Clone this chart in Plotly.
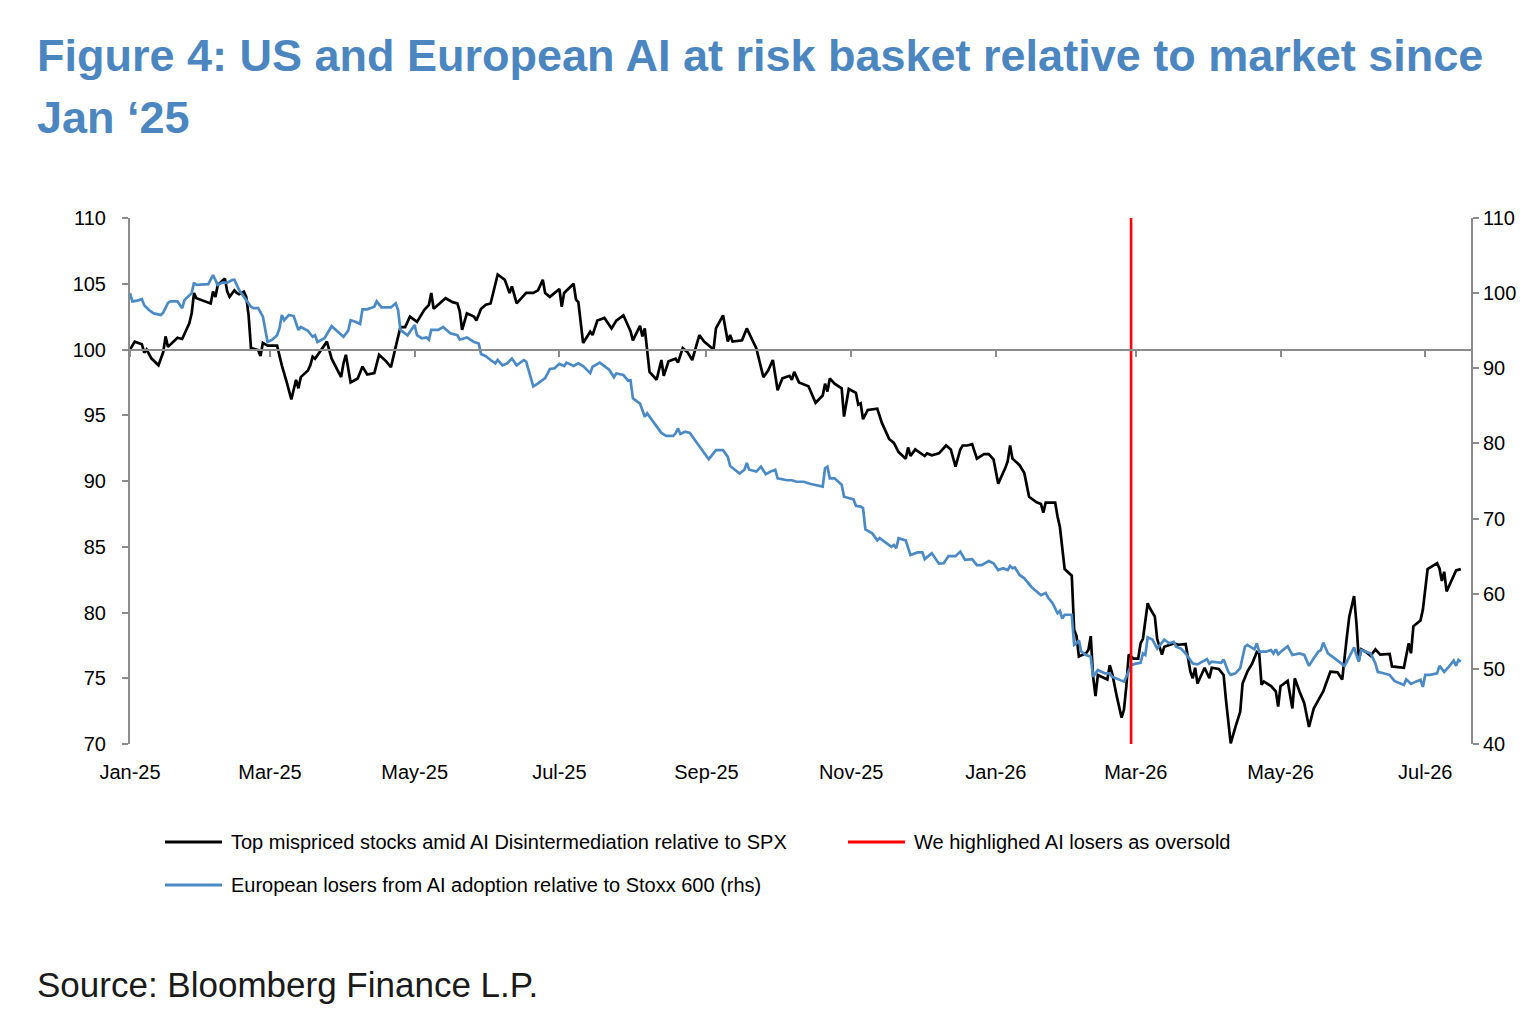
import pandas as pd
import plotly.graph_objects as go

# ---------------- data (days since 2025-01-01, index value) ----------------
BASE_DATE = "2025-01-01"

us_day = [0,2,5,6,7,9,12,14,15,16,20,22,25,26,27,28,34,35,36,37,40,41,42,44,45,46,48,49,50,51,54,55,56,58,62,64,66,68,70,71,72,75,76,77,78,80,83,85,89,90,91,93,96,98,100,103,105,108,110,112,114,116,118,121,124,126,127,128,131,133,136,138,139,140,142,145,146,148,150,152,155,158,159,160,161,163,165,167,170,172,174,175,177,179,181,182,183,187,188,189,191,194,195,197,200,203,205,208,211,212,215,216,217,219,222,224,225,227,230,231,233,235,237,240,242,246,247,250,252,253,254,258,260,264,267,269,271,273,275,278,279,280,282,286,289,292,293,294,295,297,300,301,303,306,307,308,309,311,313,315,317,320,322,324,327,328,329,331,335,336,338,341,344,346,348,350,351,353,355,357,360,362,364,366,369,370,371,372,375,377,379,382,384,385,386,390,391,392,394,397,398,399,400,403,404,405,406,407,408,412,413,414,416,418,419,420,421,423,425,426,427,429,430,432,433,435,436,438,440,442,445,447,448,449,450,452,453,455,456,459,461,462,464,466,468,469,471,473,475,476,477,478,481,483,484,485,488,490,491,493,495,497,499,501,503,504,506,509,511,513,514,516,517,518,519,521,523,525,527,531,532,537,539,540,541,544,545,547,551,552,553,554,555,559,561]
us_val = [100.0,100.6,100.4,99.76,100.0,99.33,98.8,99.8,101.0,100.2,100.9,100.8,102.0,102.75,104.3,103.9,103.5,104.4,104.0,104.9,105.4,104.4,104.0,104.5,104.3,104.2,104.4,104.0,102.6,100.1,99.96,99.5,100.5,100.3,100.3,98.8,97.55,96.2,97.7,97.05,97.9,98.4,98.8,99.45,99.3,99.8,100.6,99.3,97.9,98.95,99.6,97.5,97.8,98.7,98.1,98.2,99.6,99.1,98.65,100.2,101.7,101.7,102.5,102.1,103.0,103.4,104.3,103.1,103.6,103.9,103.6,103.5,102.9,101.5,102.75,102.5,102.2,103.1,103.4,103.5,105.7,105.3,104.8,104.3,104.8,103.5,103.9,104.3,104.3,104.5,105.3,104.3,104.0,104.3,104.6,103.25,104.3,105.0,103.8,103.6,100.5,101.35,101.1,102.2,102.4,101.6,102.2,102.6,101.4,100.7,101.8,101.0,101.6,98.3,97.7,99.2,98.0,99.1,99.3,99.0,100.1,99.8,99.2,101.1,100.6,100.0,101.6,102.6,100.6,101.1,100.6,100.7,101.6,100.1,97.9,98.4,99.2,96.9,97.8,98.0,97.7,98.3,97.5,97.2,95.95,96.5,97.4,96.8,97.8,97.4,97.05,94.9,97.0,96.7,95.8,95.9,94.7,95.4,95.45,95.5,94.4,93.2,92.9,92.2,91.7,92.55,91.9,92.4,91.9,92.1,91.95,92.1,92.7,92.4,91.1,92.4,92.7,92.7,92.8,91.7,92.05,92.05,91.65,89.8,91.0,91.5,92.7,91.7,91.2,90.6,88.8,88.4,88.25,87.6,88.35,88.35,87.3,86.5,83.3,82.8,78.7,78.2,76.65,76.9,77.15,78.2,75.1,73.65,75.25,74.9,76.0,75.4,73.6,72.0,72.6,74.4,76.8,76.5,76.5,77.65,78.0,80.7,80.3,79.7,78.0,76.8,77.4,77.55,77.65,77.55,77.6,75.5,75.0,75.8,74.6,75.4,75.8,75.0,75.8,75.7,75.25,73.35,70.05,71.3,72.45,74.6,75.5,76.1,77.0,76.9,74.5,74.75,74.4,74.0,72.85,74.4,74.8,72.7,75.0,74.0,73.1,71.3,72.7,73.35,74.0,74.5,75.5,75.45,74.9,78.2,79.7,81.25,79.2,76.4,77.2,77.0,76.7,77.2,76.8,76.85,75.9,75.8,77.65,76.9,78.95,79.4,80.2,83.3,83.75,83.35,82.4,83.1,81.6,83.2,83.3]

eu_day = [0,1,3,5,6,8,10,13,14,16,17,20,22,23,26,27,28,33,35,37,39,41,43,44,46,48,51,52,54,56,58,60,62,63,64,65,67,69,70,71,72,75,77,78,79,82,85,87,90,92,93,95,97,98,100,103,104,106,110,112,113,114,115,117,120,121,123,125,126,127,130,132,135,138,139,142,145,147,148,150,152,154,155,157,159,161,163,166,167,170,172,175,177,179,181,183,184,187,189,191,194,195,198,201,202,204,205,208,210,211,212,215,217,218,220,224,226,229,230,231,232,234,236,238,241,244,247,250,252,253,255,257,259,260,261,264,266,268,270,272,273,277,279,281,284,287,292,293,294,295,297,300,301,305,306,308,309,310,313,315,316,320,321,322,323,324,327,329,332,334,335,338,341,343,345,348,350,352,355,357,359,362,364,366,368,370,371,372,373,375,377,380,384,386,387,389,391,392,393,394,397,398,399,400,401,403,405,406,408,411,413,414,417,419,420,422,424,426,427,428,429,431,433,436,438,440,441,443,445,448,450,452,454,455,456,460,461,463,464,466,468,470,471,474,475,476,479,481,482,483,484,486,488,490,493,495,497,499,501,502,503,505,507,509,512,514,516,517,518,519,521,523,525,526,528,531,533,535,537,538,540,542,544,545,546,548,551,552,554,556,558,559,560,561]
eu_val = [100.0,98.9,99.0,99.2,98.4,97.75,97.3,97.1,97.4,98.7,98.9,98.9,98.0,99.1,100.0,101.4,101.1,101.2,102.4,101.1,101.4,101.4,101.75,101.8,100.4,99.5,98.2,98.0,98.0,96.9,93.5,93.8,94.4,95.3,97.1,96.4,97.1,96.95,96.1,95.1,95.5,95.0,94.2,94.4,93.5,94.0,95.6,95.0,94.2,95.0,96.4,96.2,95.9,97.85,97.85,98.2,98.9,98.1,98.1,98.65,97.75,95.1,94.9,94.4,95.75,94.4,94.0,94.1,93.8,95.1,95.1,95.5,94.65,94.4,93.8,94.1,93.5,93.3,91.9,91.6,91.1,90.65,91.1,90.4,90.65,91.3,90.4,91.1,90.9,87.6,88.0,88.7,89.9,90.0,90.6,90.3,90.75,90.3,90.65,90.3,89.35,90.2,90.75,90.0,89.8,88.8,89.3,89.1,88.35,88.4,86.0,85.3,83.55,84.0,83.1,81.4,81.0,81.0,81.35,82.0,81.25,81.55,81.4,80.45,79.2,77.9,79.1,79.1,78.2,77.0,76.55,76.0,76.5,77.4,76.5,76.25,76.9,75.9,76.25,76.5,75.35,75.1,75.1,74.9,74.9,74.6,74.25,76.7,76.9,75.35,75.35,74.5,72.9,72.55,71.7,71.6,71.4,68.55,68.0,67.1,67.4,66.5,66.25,66.5,66.05,67.4,67.1,65.15,65.5,65.5,64.6,65.4,64.0,64.05,65.0,65.0,65.6,64.5,64.6,63.8,63.8,64.35,64.05,63.15,63.4,63.15,63.7,63.4,63.5,62.5,62.05,60.9,59.8,60.1,59.5,58.7,57.4,57.7,56.7,57.2,57.2,53.2,53.4,53.8,52.3,51.85,51.6,48.95,49.85,49.4,49.4,48.95,48.5,48.3,48.95,50.5,50.7,50.8,52.05,51.85,54.2,53.9,52.7,53.9,53.4,53.6,52.95,52.7,52.05,50.7,50.6,50.95,51.3,50.7,50.95,50.8,51.25,49.6,49.2,49.4,50.1,52.95,53.2,52.6,53.4,52.3,52.3,52.5,52.05,52.6,51.95,52.5,53.0,51.85,52.05,51.85,50.4,51.4,52.3,52.5,53.5,52.05,51.6,51.1,50.4,51.6,52.85,51.85,50.95,52.5,52.3,52.05,50.7,49.6,49.45,49.2,48.4,48.15,47.85,48.6,48.0,48.3,48.55,47.6,49.2,49.2,49.4,50.4,49.6,50.3,51.1,50.4,51.2,50.95]

oversold_date = "2026-02-27"
x_range = ["2025-01-01", "2026-07-20 07:00"]
left_range = [70, 110]
right_range = [40, 110]
ref_level = 100

us_name = "Top mispriced stocks amid AI Disintermediation relative to SPX"
eu_name = "European losers from AI adoption relative to Stoxx 600 (rhs)"
red_name = "We highlighed AI losers as oversold"
title_lines = ["Figure 4: US and European AI at risk basket relative to market since", "Jan \u201825"]
source_text = "Source: Bloomberg Finance L.P."

# ---------------- styling ----------------
W, H = 1536, 1031
PL, PR, PT, PB = 130, 1471, 218, 744   # plot area in pixels
BLACK = "#000000"
BLUE = "#4B8AC5"
RED = "#FF0000"
TITLE_BLUE = "#4C86C0"
AXIS_GREY = "#8C8C8C"
FONT = "Liberation Sans, Arial, sans-serif"


def fx(px):
    return (px - PL) / (PR - PL)


def fy(py):
    return (PB - py) / (PB - PT)


base = pd.Timestamp(BASE_DATE)
us_dates = base + pd.to_timedelta(us_day, unit="D")
eu_dates = base + pd.to_timedelta(eu_day, unit="D")

fig = go.Figure()
fig.add_trace(go.Scatter(x=us_dates, y=us_val, mode="lines", name=us_name,
                         line=dict(color=BLACK, width=2.7), xaxis="x", yaxis="y",
                         showlegend=False))
fig.add_trace(go.Scatter(x=eu_dates, y=eu_val, mode="lines", name=eu_name,
                         line=dict(color=BLUE, width=2.7), xaxis="x", yaxis="y2",
                         showlegend=False))
fig.add_trace(go.Scatter(x=[oversold_date, oversold_date], y=left_range, mode="lines",
                         name=red_name, line=dict(color=RED, width=2.6),
                         xaxis="x2", yaxis="y", showlegend=False))

ref_pos = (ref_level - left_range[0]) / (left_range[1] - left_range[0])

fig.update_layout(
    width=W, height=H,
    margin=dict(l=PL, r=W - PR, t=PT, b=H - PB, pad=0),
    paper_bgcolor="white", plot_bgcolor="white",
    font=dict(family=FONT, color="#000000", size=20),
    showlegend=False,
    xaxis=dict(type="date", range=x_range, showgrid=False, zeroline=False,
               showline=False, ticks="outside", ticklen=10, tickcolor="rgba(0,0,0,0)",
               tick0="2025-01-01", dtick="M2", tickformat="%b-%y",
               tickfont=dict(size=20, family=FONT)),
    xaxis2=dict(type="date", overlaying="x", matches="x", anchor="free", position=ref_pos,
                side="bottom", showgrid=False, zeroline=False, showline=True,
                linecolor=AXIS_GREY, linewidth=2, ticks="outside", ticklen=6,
                tickwidth=2, tickcolor=AXIS_GREY, tick0="2025-01-01", dtick="M2",
                showticklabels=False),
    yaxis=dict(range=left_range, dtick=5, showgrid=False, zeroline=False, showline=True,
               linecolor=AXIS_GREY, linewidth=2, ticks="outside", ticklen=6, tickwidth=2,
               tickcolor=AXIS_GREY, ticklabelstandoff=12,
               tickfont=dict(size=20, family=FONT)),
    yaxis2=dict(range=right_range, dtick=10, overlaying="y", side="right", showgrid=False,
                zeroline=False, showline=True, linecolor=AXIS_GREY, linewidth=2,
                ticks="outside", ticklen=6, tickwidth=2, tickcolor=AXIS_GREY,
                tickfont=dict(size=20, family=FONT)),
)

# title
fig.add_annotation(text="<b>%s</b>" % title_lines[0], xref="paper", yref="paper",
                   x=fx(35), y=fy(56), xanchor="left", yanchor="middle", showarrow=False,
                   font=dict(size=45, color=TITLE_BLUE, family=FONT))
fig.add_annotation(text="<b>%s</b>" % title_lines[1], xref="paper", yref="paper",
                   x=fx(35), y=fy(117), xanchor="left", yanchor="middle", showarrow=False,
                   font=dict(size=45, color=TITLE_BLUE, family=FONT))

# legend (drawn manually to reproduce the two-column layout)
legend_items = [(us_name, BLACK, 165, 842), (red_name, RED, 848, 842), (eu_name, BLUE, 165, 885)]
for name, color, lx, ly in legend_items:
    fig.add_shape(type="line", xref="paper", yref="paper", x0=fx(lx), x1=fx(lx + 57),
                  y0=fy(ly), y1=fy(ly), line=dict(color=color, width=2.8))
    fig.add_annotation(text=name, xref="paper", yref="paper", x=fx(lx + 64), y=fy(ly),
                       xanchor="left", yanchor="middle", showarrow=False,
                       font=dict(size=20, color="#000000", family=FONT))

# source
fig.add_annotation(text=source_text, xref="paper", yref="paper", x=fx(35), y=fy(984),
                   xanchor="left", yanchor="middle", showarrow=False,
                   font=dict(size=35, color="#1a1a1a", family=FONT))

fig.write_html("out.html")
